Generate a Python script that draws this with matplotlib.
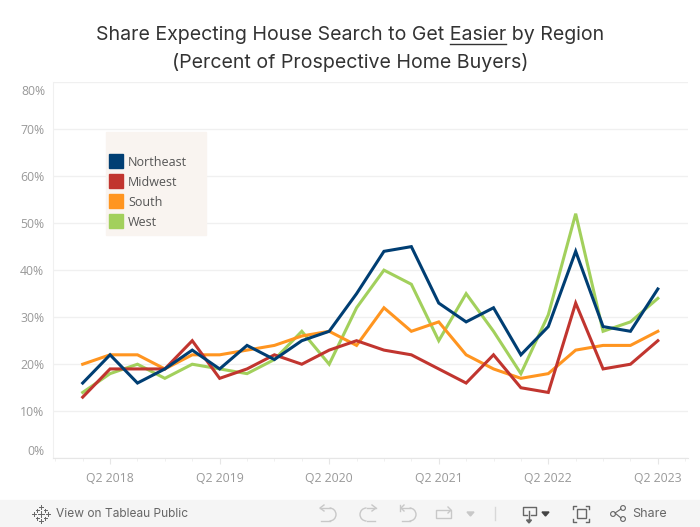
from matplotlib import pyplot as plt
from matplotlib.lines import Line2D
from matplotlib.patches import Rectangle, Circle, Arc
from matplotlib.transforms import Affine2D
import numpy as np

plt.rcParams['font.family'] = ['Open Sans', 'DejaVu Sans']

# %% Data (Q1 2018 to Q2 2023)

quarters = ['Q%d %d'%(q,y) for y in range(2018,2024) for q in range(1,5)][:22]
northeast = [16,22,16,19,23,19,24,21,25,27,35,44,45,33,29,32,22,28,44,28,27,36]
midwest = [13,19,19,19,25,17,19,22,20,23,25,23,22,19,16,22,15,14,33,19,20,25]
south = [20,22,22,19,22,22,23,24,26,27,24,32,27,29,22,19,17,18,23,24,24,27]
west = [14,18,20,17,20,19,18,21,27,20,32,40,37,25,35,27,18,30.5,52,27,29,34]

regions = ['Northeast','Midwest','South','West']
colors = ['#003e73','#c1352f','#ff9520','#a2d05c']
yticks = [0,10,20,30,40,50,60,70,80]

W,H = 700,527
fig = plt.figure(figsize=(7,5.27),dpi=100)
px = Affine2D().scale(1/W,-1/H).translate(0,1)+fig.transFigure

def line(xs,ys,col,lw=1):
    fig.add_artist(Line2D(xs,ys,color=col,lw=lw,transform=px,zorder=2))

def tri(x0,x1,y0,y1,col):
    fig.add_artist(plt.Polygon([(x0,y0),(x1,y0),((x0+x1)/2,y1)],color=col,transform=px,zorder=2))

def loop(x0,x1,y0,y1,col,right=True):
    # open loop of the undo and redo icons
    r = (y1-y0)/2
    if right:
        fig.add_artist(Arc((x1-r,y0+r),2*r,2*r,theta1=-90,theta2=90,color=col,lw=1,transform=px,zorder=2))
        line([x0,x1-r],[y0,y0],col)
        line([x0+1,x1-r],[y1,y1],col)
    else:
        fig.add_artist(Arc((x0+r,y0+r),2*r,2*r,theta1=90,theta2=270,color=col,lw=1,transform=px,zorder=2))
        line([x0+r,x1],[y0,y0],col)
        line([x0+r,x1-1],[y1,y1],col)

# %% Main axes

ax = fig.add_axes([52.7/W,1-458.3/H,635/W,376.3/H])
x = np.arange(len(quarters))

for values,col,order in zip([west,south,midwest,northeast],colors[::-1],[2,3,4,5]):
    ax.plot(x,values,color=col,lw=2.2,zorder=order,solid_joinstyle='miter')

ax.set_xlim(-1.095,22.09)
ax.set_ylim(0,80)
ax.set_yticks(yticks)
ax.set_yticklabels(['%d%%'%v for v in yticks[:-1]]+[''],color='#999999',fontsize=8.8)
ax.get_yticklabels()[0].set_va('bottom')
ax.annotate('%d%%'%yticks[-1],xy=(0,yticks[-1]),xycoords=ax.get_yaxis_transform(),xytext=(-5.5,-6.5),
    textcoords='offset points',ha='right',va='center',color='#999999',fontsize=8.8)
ax.set_xticks(x[1::4])
ax.set_xticklabels(quarters[1::4],color='#999999',fontsize=8.8)
ax.set_xticks(np.arange(-1,23),minor=True)
ax.tick_params(axis='y',length=0,pad=6)
ax.tick_params(axis='x',which='major',length=4,color='#e6e6e6',pad=6)
ax.tick_params(axis='x',which='minor',length=2,color='#eeeeee')
ax.grid(axis='y',color='#f0f0f0',lw=1)
ax.set_axisbelow(True)
for side in ['top','right']: ax.spines[side].set_visible(False)
ax.spines['left'].set_color('#f0f0f0')
ax.spines['bottom'].set_color('#e6e6e6')

# %% Title with the underlined word

titleCol = '#333333'
titleSize = 14.1
titleFont = ['Inter','DejaVu Sans']
part1 = 'Share Expecting House Search to Get '
part2 = 'Easier'
full = part1+part2+' by Region'
tx = fig.text(350/W,1-34.5/H,full,ha='center',va='center',fontsize=titleSize,color=titleCol,family=titleFont)
fig.text(350/W,1-62.5/H,'(Percent of Prospective Home Buyers)',ha='center',va='center',
    fontsize=titleSize,color=titleCol,family=titleFont)

rend = fig.canvas.get_renderer()
left = tx.get_window_extent(rend).x0
tmp = fig.text(0,0,part1.replace(' ','\u00a0'),fontsize=titleSize,family=titleFont)
x0 = left+tmp.get_window_extent(rend).width
tmp.set_text(part1.replace(' ','\u00a0')+part2)
x1 = left+tmp.get_window_extent(rend).width
tmp.remove()
fig.add_artist(Line2D([x0,x1],[43.5,43.5],color=titleCol,lw=1,transform=px))

# %% Legend

fig.add_artist(Rectangle((106,132),100,103,color='#f9f4f0',transform=px,zorder=6))
for i,(name,col) in enumerate(zip(regions,colors)):
    yc = 161+20*i
    fig.add_artist(Rectangle((109,yc-7),14,14,color=col,transform=px,zorder=7))
    fig.text(128/W,1-(yc+1)/H,name,ha='left',va='center',fontsize=9,color='#555555',zorder=7)

# %% Tableau toolbar

barFont = ['Inter','DejaVu Sans']
fig.add_artist(Rectangle((0,500),W,27,color='#f5f5f5',transform=px,zorder=1))
fig.text(56/W,1-514/H,'View on Tableau Public',ha='left',va='center',fontsize=8.6,color='#666666',family=barFont)
fig.text(632/W,1-514/H,'Share',ha='left',va='center',fontsize=9,color='#666666',family=barFont)

# Tableau logo crosses
for dx,dy,s in [(0,0,3),(0,-7,2),(0,7,2),(-7,0,2),(7,0,2),(-4,-4,1.5),(4,-4,1.5),(-4,4,1.5),(4,4,1.5)]:
    line([41+dx-s,41+dx+s],[514+dy,514+dy],'#666666',0.7)
    line([41+dx,41+dx],[514+dy-s,514+dy+s],'#666666',0.7)

# Undo, redo, revert, refresh (disabled)
grey = '#c8c8c8'
loop(320,336,508,521,grey,True)
line([324,320,324],[505,508,511],grey)
loop(360,376,508,521,grey,False)
line([372,376,372],[505,508,511],grey)
loop(401,416,508,521,grey,True)
line([404,401,404],[505,508,511],grey)
line([400,400],[505,511],grey)
fig.add_artist(Rectangle((436,510),15,8,fill=False,ec=grey,lw=1,transform=px,zorder=2))
line([448,451,448],[507,510,513],grey)
tri(467,474,512,516,grey)
line([495,495],[507,520],'#d8d8d8')

# Download, fullscreen, share
dark = '#666666'
line([527,523,523,536,536,531],[515,515,507,507,515,515],dark)
line([529,529],[511,521],dark)
tri(526.5,531.5,520,523,dark)
tri(542,549,512,516,'#444444')
fig.add_artist(Rectangle((577,509),9,9,fill=False,ec=dark,lw=1,transform=px,zorder=2))
for cx,sx in [(573,1),(589,-1)]:
    line([cx+3*sx,cx,cx],[506,506,509],dark)
    line([cx,cx,cx+3*sx],[519,522,522],dark)
for cx,cy in [(613,514),(623,508),(623,519)]:
    fig.add_artist(Circle((cx,cy),2.4,fill=False,ec=dark,lw=0.8,transform=px,zorder=2))
line([621,615,621],[509,513,518],dark,0.8)

fig.savefig('out.png',dpi=100)
